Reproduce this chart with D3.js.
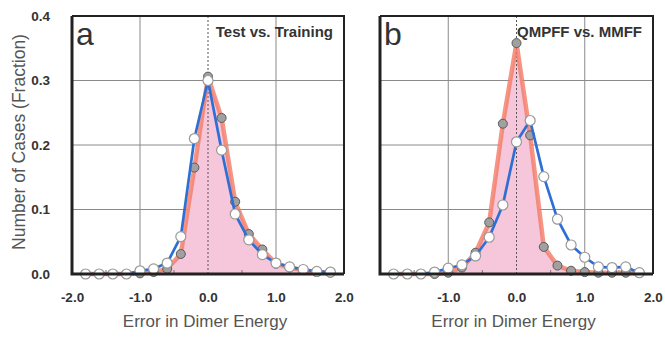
<!DOCTYPE html>
<html>
<head>
<meta charset="utf-8">
<script src="https://cdn.jsdelivr.net/npm/d3@7"></script>
<style>
  body { margin: 0; background: #fff; }
  text { font-family: "Liberation Sans", Arial, sans-serif; }
</style>
</head>
<body>
<div id="chart-area"></div>
<script>
// bin centres (error in dimer energy)
var bins = [-1.8, -1.6, -1.4, -1.2, -1.0, -0.8, -0.6, -0.4, -0.2, 0.0,
            0.2, 0.4, 0.6, 0.8, 1.0, 1.2, 1.4, 1.6, 1.8];

// panel a: test vs. training
var aTraining = [0, 0, 0, 0, 0.001, 0.003, 0.008, 0.031, 0.165, 0.306,
                 0.242, 0.112, 0.062, 0.038, 0.016, 0.01, 0.006, 0.003, 0.002];
var aTest = [0, 0, 0, 0, 0.005, 0.008, 0.017, 0.058, 0.21, 0.30,
             0.192, 0.093, 0.053, 0.03, 0.017, 0.011, 0.007, 0.004, 0.003];

// panel b: QMPFF vs. MMFF
var bQmpff = [0, 0, 0, 0, 0.002, 0.01, 0.033, 0.08, 0.233, 0.358,
              0.215, 0.042, 0.013, 0.005, 0.003, 0.002, 0.002, 0.002, 0.002];
var bMmff = [0, 0, 0, 0.003, 0.009, 0.014, 0.028, 0.057, 0.107, 0.205,
             0.238, 0.151, 0.085, 0.045, 0.026, 0.011, 0.01, 0.011, 0.002];

var yTicks = [0.0, 0.1, 0.2, 0.3, 0.4];
var xTicksA = [-2, -1, 0, 1, 2];
var xTicksB = [-1, 0, 1, 2];

var svg = d3.select('#chart-area')
  .append('svg')
    .attr('width', 665)
    .attr('height', 337);

var plotTop = 16, plotBottom = 274;

// plain hyphen for negatives, like the original
var fmt = d => d.toFixed(1);

var y = d3.scaleLinear()
  .domain([0, 0.4])
  .range([plotBottom, plotTop]);

// y axis title
svg.append('text')
  .attr('transform', 'translate(20,' + 142 + ') rotate(-90)')
  .attr('text-anchor', 'middle')
  .attr('dominant-baseline', 'middle')
  .attr('font-size', '17.5px')
  .attr('fill', '#555')
  .text('Number of Cases (Fraction)');

// y tick labels (left panel only)
var yAxis = d3.axisLeft(y)
  .tickValues(yTicks)
  .tickFormat(fmt)
  .tickSize(0)
  .tickPadding(22);

svg.append('g')
  .attr('transform', 'translate(72,0)')
  .call(yAxis)
  .call(g => g.select('.domain').remove())
  .selectAll('text')
    .attr('font-family', '"Liberation Sans", Arial, sans-serif')
    .attr('font-size', '13.5px')
    .attr('font-weight', 'bold')
    .attr('fill', '#333');

function drawPanel(left, right, xTicks, label, title, redData, blueData) {
  var x = d3.scaleLinear()
    .domain([-2, 2])
    .range([left, right]);

  var g = svg.append('g');

  // grid lines
  g.selectAll('.vgrid')
    .data([-1, 1])
    .enter().append('line')
      .attr('x1', d => x(d)).attr('x2', d => x(d))
      .attr('y1', plotTop).attr('y2', plotBottom)
      .attr('stroke', '#8a8a8a')
      .attr('stroke-width', 1);

  g.selectAll('.hgrid')
    .data([0.1, 0.2, 0.3])
    .enter().append('line')
      .attr('x1', left).attr('x2', right)
      .attr('y1', d => y(d)).attr('y2', d => y(d))
      .attr('stroke', '#8a8a8a')
      .attr('stroke-width', 1);

  var pts = d => bins.map((b, i) => [b, d[i]]);

  // pink filled area under red curve
  var area = d3.area()
    .x(d => x(d[0]))
    .y0(plotBottom)
    .y1(d => y(d[1]));

  g.append('path')
    .datum(pts(redData))
    .attr('d', area)
    .attr('fill', '#f6c6da');

  // zero line (dotted)
  g.append('line')
    .attr('x1', x(0)).attr('x2', x(0))
    .attr('y1', plotTop).attr('y2', plotBottom)
    .attr('stroke', '#555')
    .attr('stroke-width', 1)
    .attr('stroke-dasharray', '2,2');

  // minor ticks along bottom
  g.selectAll('.mtick')
    .data([-1.5, -0.5, 0.5, 1.5])
    .enter().append('line')
      .attr('x1', d => x(d)).attr('x2', d => x(d))
      .attr('y1', plotBottom).attr('y2', plotBottom - 4)
      .attr('stroke', '#777');

  var line = d3.line()
    .x(d => x(d[0]))
    .y(d => y(d[1]));

  // red line with dark markers
  g.append('path')
    .datum(pts(redData))
    .attr('d', line)
    .attr('fill', 'none')
    .attr('stroke', '#f47a64')
    .attr('stroke-opacity', 0.8)
    .attr('stroke-width', 4.5)
    .attr('stroke-linejoin', 'round');

  g.selectAll('.rdot')
    .data(pts(redData))
    .enter().append('circle')
      .attr('cx', d => x(d[0]))
      .attr('cy', d => y(d[1]))
      .attr('r', 4.5)
      .attr('fill', '#a0a0a0')
      .attr('stroke', '#5a5a5a')
      .attr('stroke-width', 1);

  // blue line with white markers
  g.append('path')
    .datum(pts(blueData))
    .attr('d', line)
    .attr('fill', 'none')
    .attr('stroke', '#2f6fd3')
    .attr('stroke-width', 2.7)
    .attr('stroke-linejoin', 'round');

  g.selectAll('.bdot')
    .data(pts(blueData))
    .enter().append('circle')
      .attr('cx', d => x(d[0]))
      .attr('cy', d => y(d[1]))
      .attr('r', 5)
      .attr('fill', '#fff')
      .attr('stroke', '#999')
      .attr('stroke-width', 1.2);

  // frame
  g.append('path')
    .attr('d', `M${left},${plotTop}H${right}V${plotBottom}`)
    .attr('fill', 'none')
    .attr('stroke', '#222')
    .attr('stroke-width', 2);
  g.append('path')
    .attr('d', `M${left},${plotTop}V${plotBottom}H${right}`)
    .attr('fill', 'none')
    .attr('stroke', '#222')
    .attr('stroke-width', 3);

  // x tick labels
  var xAxis = d3.axisBottom(x)
    .tickValues(xTicks)
    .tickFormat(fmt)
    .tickSize(0)
    .tickPadding(18);

  svg.append('g')
    .attr('transform', 'translate(0,' + plotBottom + ')')
    .call(xAxis)
    .call(a => a.select('.domain').remove())
    .selectAll('text')
      .attr('font-family', '"Liberation Sans", Arial, sans-serif')
      .attr('font-size', '13.5px')
      .attr('font-weight', 'bold')
      .attr('fill', '#333');

  // x axis title
  svg.append('text')
    .attr('x', (left + right) / 2 - 3)
    .attr('y', 327)
    .attr('text-anchor', 'middle')
    .attr('font-size', '17px')
    .attr('fill', '#555')
    .text('Error in Dimer Energy');

  // panel letter
  svg.append('text')
    .attr('x', left + 4)
    .attr('y', 45)
    .attr('font-size', '32px')
    .attr('fill', '#333')
    .text(label);

  // panel title
  svg.append('text')
    .attr('x', right - 11)
    .attr('y', 37)
    .attr('text-anchor', 'end')
    .attr('font-size', '15px')
    .attr('font-weight', 'bold')
    .attr('fill', '#333')
    .text(title);
}

drawPanel(72, 344, xTicksA, 'a', 'Test vs. Training', aTraining, aTest);
drawPanel(380, 653, xTicksB, 'b', 'QMPFF vs. MMFF', bQmpff, bMmff);
</script>
</body>
</html>
